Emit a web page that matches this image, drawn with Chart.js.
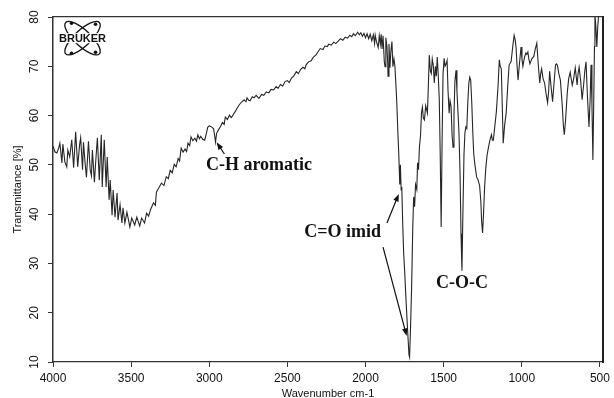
<!DOCTYPE html>
<html lang="en">
<head>
<meta charset="UTF-8">
<title>IR spectrum</title>
<script src="https://cdn.jsdelivr.net/npm/chart.js"></script>
<style>
  body { margin: 0; background: #fff; }
  canvas { display: block; }
</style>
</head>
<body>
<canvas id="irChart" width="614" height="398"></canvas>
<script>
// wavenumber (cm-1) and transmittance (%)
const wavenumbers = [
  4000, 3987, 3975, 3962, 3956, 3943, 3937, 3924, 3912, 3905, 3893, 3880, 3868, 3855, 3842, 3830,
  3823, 3811, 3805, 3795, 3786, 3773, 3762, 3754, 3748, 3735, 3726, 3716, 3704, 3691, 3685, 3672,
  3660, 3653, 3641, 3634, 3622, 3615, 3603, 3590, 3584, 3571, 3559, 3552, 3540, 3527, 3508, 3496,
  3477, 3464, 3445, 3433, 3414, 3401, 3388, 3376, 3357, 3345, 3338,
  3325, 3306, 3290, 3275, 3262, 3250, 3237, 3224, 3212, 3199, 3190, 3180, 3168, 3155, 3145, 3136,
  3125, 3117, 3105, 3092, 3082, 3073, 3063, 3054, 3042, 3029, 3020, 3010, 3000, 2991, 2982, 2972,
  2966, 2960, 2953, 2941, 2928, 2916, 2905, 2897, 2884, 2871, 2860, 2852, 2843, 2834, 2820, 2808,
  2795, 2777, 2765, 2758, 2748, 2739, 2725, 2714, 2700, 2682, 2665, 2651, 2635, 2619, 2605, 2588,
  2572, 2560, 2545, 2530, 2515, 2500, 2488, 2474, 2460, 2443, 2430, 2415, 2400, 2388, 2380, 2365,
  2348, 2335, 2317, 2305, 2290, 2272, 2260, 2245, 2235, 2220, 2203, 2190, 2172, 2160, 2145, 2130,
  2115, 2100, 2088, 2077, 2065, 2050, 2040, 2030, 2020, 2010, 2000, 1990, 1980, 1970, 1960, 1950,
  1942, 1938, 1930, 1919, 1912, 1905, 1900, 1894, 1888, 1880, 1875, 1870, 1863, 1858, 1856, 1850,
  1844, 1838, 1831, 1825, 1818, 1812, 1806, 1800, 1793, 1787, 1781, 1777, 1772, 1768, 1762, 1756,
  1749, 1740, 1730, 1722, 1718, 1712, 1705, 1698, 1692, 1686, 1680, 1672, 1667, 1661, 1655, 1648,
  1642, 1636, 1630, 1623, 1615, 1604, 1598, 1592, 1585, 1579, 1573, 1566, 1560, 1553, 1547, 1541,
  1535, 1528, 1522, 1516, 1510, 1504, 1497, 1491, 1484, 1478, 1472, 1465, 1459, 1453, 1446, 1440,
  1434, 1428, 1421, 1415, 1409, 1402, 1395, 1389, 1383, 1377, 1370, 1364, 1358, 1352, 1345, 1339,
  1333, 1327, 1320, 1314, 1308, 1300, 1289, 1280, 1270, 1262, 1257, 1251, 1245, 1238, 1230, 1222,
  1213, 1204, 1194, 1188, 1182, 1172, 1163, 1152, 1144, 1138, 1131, 1125, 1119, 1110, 1100, 1090,
  1081, 1075, 1068, 1058, 1049, 1043, 1037, 1030, 1024, 1015, 1005, 999, 993, 983, 974, 968,
  961, 955, 948, 936, 923, 914, 904, 895, 885, 879, 873, 864, 854, 845, 835, 828,
  822, 813, 803, 794, 784, 778, 772, 763, 753, 741, 734, 728, 720, 709, 700, 690,
  684, 677, 668, 658, 652, 646, 640, 633, 623, 614, 605, 597, 589, 580, 570, 563,
  557, 551, 545, 540, 535, 532, 526, 520, 514, 507, 500, 490
];
const transmittance = [
  53.8, 52.6, 52.4, 53.6, 54.4, 50.4, 54.2, 50.6, 49.6, 53.0, 51.6, 55.1, 49.4, 56.7, 49.6, 54.0,
  55.5, 49.0, 54.6, 50.5, 47.5, 54.8, 49.0, 47.8, 53.0, 46.5, 51.0, 55.5, 46.9, 56.1, 45.5, 55.1,
  45.5, 51.6, 42.9, 46.9, 39.8, 44.9, 39.4, 44.3, 38.8, 41.9, 38.2, 41.3, 38.2, 40.4, 37.4, 39.2,
  37.8, 39.4, 37.6, 39.2, 38.2, 40.2, 39.6, 40.9, 42.3, 41.8, 44.5,
  45.2, 46.3, 45.8, 47.6, 47.2, 48.9, 48.4, 50.1, 49.6, 51.3, 50.8, 53.4, 52.6, 53.2, 52.7, 54.4,
  53.9, 55.7, 54.9, 55.4, 54.8, 56.1, 55.3, 55.8, 55.2, 55.0, 56.2, 57.6, 57.9, 57.8, 57.6, 57.3,
  56.0, 54.6, 56.4, 57.1, 57.8, 58.6, 58.2, 59.7, 59.2, 60.1, 59.6, 59.9, 60.4, 60.8, 61.6, 62.2,
  62.7, 63.2, 62.8, 63.6, 63.1, 63.0, 63.8, 63.6, 64.1, 63.5, 64.3, 64.1, 64.8, 64.6, 65.3, 65.2,
  65.9, 65.5, 66.3, 66.0, 66.9, 67.1, 66.7, 67.6, 68.0, 68.9, 68.5, 69.4, 69.8, 69.5, 70.3, 70.9,
  71.1, 71.8, 72.3, 72.9, 73.6, 73.4, 74.1, 74.0, 74.5, 74.3, 74.9, 74.6, 75.2, 75.6, 75.3, 75.9,
  75.7, 76.3, 76.0, 76.6, 76.2, 76.9, 76.4, 76.8, 76.1, 76.7, 75.8, 76.6, 75.6, 76.5, 75.2, 76.4,
  74.6, 76.3, 75.0, 73.8, 76.2, 74.5, 76.5, 73.5, 76.2, 71.0, 69.9, 75.8, 74.0, 70.5, 68.0, 74.5,
  69.7, 73.0, 75.0, 69.9, 71.5, 70.0, 66.5, 62.6, 56.5, 52.0, 46.0, 50.0, 44.9, 45.5, 38.0, 32.1,
  28.0, 22.0, 16.0, 11.5, 11.0, 17.0, 25.2, 37.0, 43.5, 41.5, 46.0, 45.0, 50.4, 49.0, 53.6, 56.0,
  60.5, 61.7, 59.5, 59.1, 62.0, 60.5, 66.0, 72.3, 69.0, 68.5, 71.5, 70.0, 66.6, 70.0, 68.0, 71.9,
  68.5, 63.2, 52.0, 37.4, 55.0, 68.5, 71.6, 70.0, 70.5, 71.2, 65.0, 60.5, 63.0, 62.0, 56.0, 53.6,
  60.0, 67.0, 69.2, 65.0, 61.0, 56.5, 48.0, 36.0, 28.5, 40.0, 52.0, 56.5, 57.7, 57.4, 63.0, 66.5,
  67.8, 67.2, 62.5, 57.0, 52.4, 50.0, 47.5, 47.0, 45.8, 42.5, 38.5, 36.2, 40.0, 45.5, 49.5, 52.0,
  53.6, 55.0, 56.1, 55.0, 55.0, 58.0, 60.7, 66.0, 71.3, 70.0, 69.5, 62.0, 54.4, 58.0, 60.5, 66.0,
  70.3, 70.6, 71.0, 74.0, 76.3, 75.5, 73.9, 70.0, 67.2, 70.5, 73.9, 71.5, 70.0, 71.8, 72.7, 72.4,
  72.9, 71.5, 70.5, 71.5, 72.0, 73.5, 74.7, 70.5, 66.6, 68.5, 69.5, 67.5, 66.6, 64.5, 62.6, 65.0,
  69.0, 66.0, 62.8, 66.5, 70.3, 70.5, 70.2, 68.5, 67.2, 62.0, 58.0, 56.1, 59.0, 64.6, 67.5, 68.8,
  67.5, 66.2, 67.5, 69.7, 68.0, 66.2, 68.5, 69.8, 67.0, 63.2, 66.0, 69.0, 70.9, 64.0, 57.7, 63.0,
  70.3, 62.0, 51.0, 62.0, 74.0, 80.5, 78.0, 73.9, 78.0, 81.0, 82.0, 82.0
];
const xTicks = [4000, 3500, 3000, 2500, 2000, 1500, 1000, 500];
const yTicks = [10, 20, 30, 40, 50, 60, 70, 80];

// band labels and arrows, in data coordinates
const bandLabels = [
  { text: 'C-H aromatic', wn: 2682, t: 50.0 },
  { text: 'C=O imid', wn: 2146, t: 36.4 },
  { text: 'C-O-C', wn: 1383, t: 26.0 }
];
const bandArrows = [
  { from: [2903, 52.2], to: [2953, 54.6] },
  { from: [1863, 38.2], to: [1787, 44.1] },
  { from: [1888, 33.3], to: [1737, 15.3] }
];

const points = wavenumbers.map((w, i) => ({ x: w, y: transmittance[i] }));

const annotate = {
  id: 'annotate',
  afterDatasetsDraw(chart) {
    const { ctx, scales: { x, y } } = chart;
    ctx.save();
    ctx.fillStyle = '#111';
    ctx.strokeStyle = '#111';
    ctx.font = 'bold 18px "Liberation Serif", "Times New Roman", serif';
    ctx.textAlign = 'center';
    ctx.textBaseline = 'middle';
    bandLabels.forEach(l => ctx.fillText(l.text, x.getPixelForValue(l.wn), y.getPixelForValue(l.t)));

    ctx.lineWidth = 1.2;
    bandArrows.forEach(a => {
      const x0 = x.getPixelForValue(a.from[0]), y0 = y.getPixelForValue(a.from[1]);
      const x1 = x.getPixelForValue(a.to[0]), y1 = y.getPixelForValue(a.to[1]);
      const ang = Math.atan2(y1 - y0, x1 - x0);
      ctx.beginPath();
      ctx.moveTo(x0, y0);
      ctx.lineTo(x1 - 5 * Math.cos(ang), y1 - 5 * Math.sin(ang));
      ctx.stroke();
      ctx.beginPath();
      ctx.moveTo(x1, y1);
      ctx.lineTo(x1 - 8 * Math.cos(ang - 0.35), y1 - 8 * Math.sin(ang - 0.35));
      ctx.lineTo(x1 - 8 * Math.cos(ang + 0.35), y1 - 8 * Math.sin(ang + 0.35));
      ctx.closePath();
      ctx.fill();
    });

    // Bruker logo
    const lx = x.getPixelForValue(3811), ly = y.getPixelForValue(75.7);
    ctx.lineWidth = 1.3;
    [0.75, -0.75].forEach(r => {
      ctx.beginPath();
      ctx.ellipse(lx, ly, 23, 8, r, 0, Math.PI * 2);
      ctx.stroke();
    });
    [[-11, -15], [-11, 15], [13, -14], [13, 14]].forEach(d => {
      ctx.beginPath();
      ctx.arc(lx + d[0], ly + d[1], 1.8, 0, Math.PI * 2);
      ctx.fill();
    });
    ctx.fillStyle = '#fff';
    ctx.fillRect(lx - 26, ly - 5, 52, 10);
    ctx.fillStyle = '#111';
    ctx.font = 'bold 11px "Liberation Sans", Arial, sans-serif';
    ctx.fillText('BRUKER', lx, ly + 1);
    ctx.restore();
  }
};

new Chart(document.getElementById('irChart'), {
  type: 'line',
  data: {
    datasets: [{
      data: points,
      borderColor: '#262626',
      borderWidth: 1.1,
      pointRadius: 0,
      tension: 0,
      clip: 0
    }]
  },
  options: {
    responsive: false,
    animation: false,
    layout: { padding: 0 },
    plugins: { legend: { display: false }, tooltip: { enabled: false } },
    scales: {
      x: {
        type: 'linear',
        reverse: true,
        min: 480,
        max: 4000,
        afterBuildTicks: s => { s.ticks = xTicks.map(v => ({ value: v })); },
        afterFit: s => { s.height = 36; },
        ticks: {
          callback: v => String(v),
          color: '#111',
          font: { family: '"Liberation Sans", Arial, sans-serif', size: 12 },
          padding: 4,
          maxRotation: 0,
          autoSkip: false
        },
        grid: { drawOnChartArea: false, tickLength: 5, color: '#333' },
        border: { color: '#333', width: 1.2 },
        title: {
          display: true,
          text: 'Wavenumber cm-1',
          color: '#111',
          font: { family: '"Liberation Sans", Arial, sans-serif', size: 11, lineHeight: 0.75 },
          padding: 0
        }
      },
      x2: {
        type: 'linear',
        position: 'top',
        min: 0,
        max: 1,
        afterFit: s => { s.height = 17; },
        ticks: { display: false },
        grid: { display: false },
        border: { color: '#333', width: 1.2 }
      },
      y: {
        min: 10,
        max: 80,
        afterBuildTicks: s => { s.ticks = yTicks.map(v => ({ value: v })); },
        afterFit: s => { s.width = 53; },
        ticks: {
          color: '#111',
          font: { family: '"Liberation Sans", Arial, sans-serif', size: 12 },
          minRotation: 90,
          maxRotation: 90,
          crossAlign: 'center',
          padding: 7
        },
        grid: { drawOnChartArea: false, tickLength: 5, color: '#333' },
        border: { color: '#333', width: 1.5 },
        title: {
          display: true,
          text: 'Transmittance [%]',
          color: '#111',
          font: { family: '"Liberation Sans", Arial, sans-serif', size: 11 },
          padding: { top: 11, bottom: 0 }
        }
      },
      y2: {
        position: 'right',
        min: 0,
        max: 1,
        afterFit: s => { s.width = 2; },
        ticks: { display: false },
        grid: { display: false },
        border: { color: '#222', width: 2 }
      }
    }
  },
  plugins: [annotate]
});
</script>
</body>
</html>
